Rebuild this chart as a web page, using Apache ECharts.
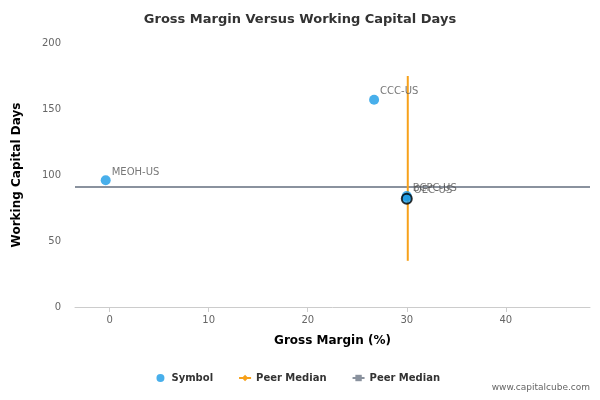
<!DOCTYPE html><html><head><meta charset="utf-8"><script src="https://cdn.jsdelivr.net/npm/echarts@6/dist/echarts.min.js"></script></head><body style="margin:0"><div id="c" style="width:600px;height:400px"></div><script>
const names=['MEOH-US','CCC-US','BCPC-US','OEC-US'];
const gm=[-0.4,26.7,30.0,30.0];
const wcd=[96,157,84,82];
const medX=30.1, medY=91;
const vLine=[35,175];
const hLine=[-3.5,48.5];
const ch=echarts.init(document.getElementById('c'));
const font='"DejaVu Sans",sans-serif';
ch.setOption({
 animation:false,
 title:{text:'Gross Margin Versus Working Capital Days',left:'center',top:8,textStyle:{fontFamily:font,fontSize:13,fontWeight:'bold',color:'#333'}},
 grid:{left:75,right:10,top:43,bottom:93},
 xAxis:{type:'value',min:-3.5,max:48.5,interval:10,name:'Gross Margin (%)',nameLocation:'middle',nameGap:28,nameTextStyle:{fontFamily:font,fontWeight:'bold',fontSize:12,color:'#000'},
  axisLabel:{fontFamily:font,fontSize:10,color:'#666',customValues:[0,10,20,30,40]},axisTick:{customValues:[0,10,20,30,40],show:true},splitLine:{show:false},axisLine:{onZero:false,lineStyle:{color:'#ccc'}}},
 yAxis:{type:'value',min:0,max:200,interval:50,name:'Working Capital Days',nameLocation:'middle',nameGap:52,nameTextStyle:{fontFamily:font,fontWeight:'bold',fontSize:12,color:'#000'},
  axisLabel:{fontFamily:font,fontSize:10,color:'#666',margin:14},axisTick:{show:false},splitLine:{show:false},axisLine:{show:false,onZero:false}},
 legend:{bottom:12,left:'center',itemGap:25,itemWidth:12,itemHeight:8,textStyle:{fontFamily:font,fontSize:10,fontWeight:'bold',color:'#333'},
  data:[{name:'Symbol',icon:'circle'},{name:'Peer Median'},{name:'Peer Median '}]},
 graphic:[{type:'text',right:10,bottom:8,style:{text:'www.capitalcube.com',fontFamily:font,fontSize:9,fill:'#666'}}],
 series:[
  {name:'Symbol',type:'scatter',symbolSize:10,itemStyle:{color:'#1a9be6'},z:5,
   data:names.map((n,i)=>({value:[gm[i],wcd[i]],name:n,itemStyle:n==='OEC-US'?{color:'#1a9be6',borderColor:'#000',borderWidth:2}:undefined})),
   label:{show:true,position:'right',offset:[-4,-8],formatter:p=>p.name,fontFamily:font,fontSize:10,color:'#555'}},
  {name:'Peer Median',type:'line',symbol:'diamond',showSymbol:false,symbolSize:7,itemStyle:{color:'#f7a11a'},lineStyle:{color:'#f7a11a',width:2},data:[[medX,vLine[0]],[medX,vLine[1]]],z:3},
  {name:'Peer Median ',type:'line',symbol:'rect',showSymbol:false,symbolSize:7,itemStyle:{color:'#8a929e'},lineStyle:{color:'#8a929e',width:2},data:[[hLine[0],medY],[hLine[1],medY]],z:2}
 ]});
</script></body></html>
